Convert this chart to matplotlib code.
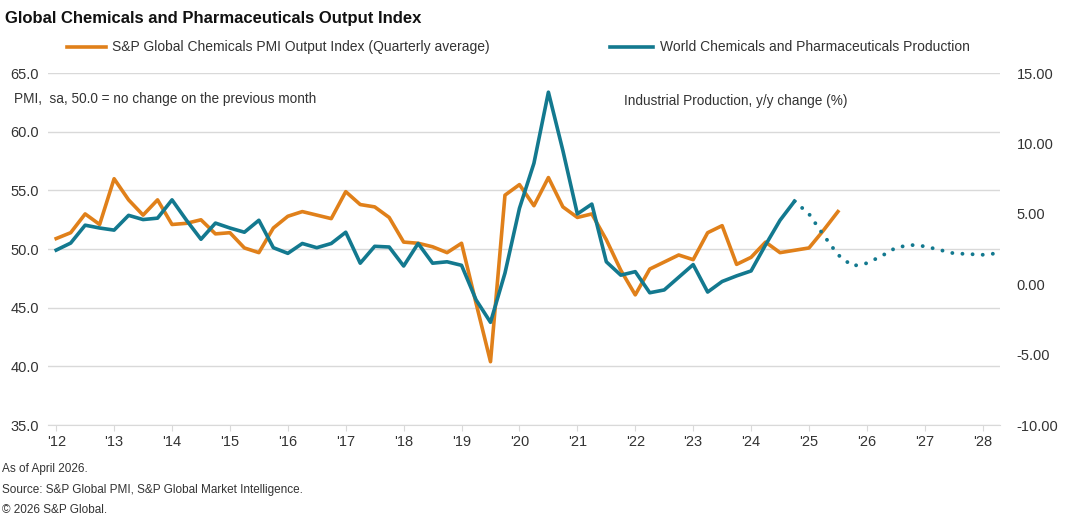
import matplotlib
matplotlib.use("Agg")
import matplotlib.pyplot as plt
import numpy as np

plt.rcParams['font.family'] = ['Liberation Sans', 'DejaVu Sans']

pmi = [50.9,51.4,53.0,52.1,56.0,54.2,52.9,54.2,52.1,52.2,52.5,51.3,51.4,50.1,49.7,51.8,
       52.8,53.2,52.9,52.6,54.9,53.8,53.6,52.7,50.6,50.5,50.2,49.7,50.5,45.4,40.4,54.6,
       55.5,53.7,56.1,53.6,52.7,53.0,50.8,48.2,46.1,48.3,48.9,49.5,49.1,51.4,52.0,48.7,
       49.3,50.6,49.7,49.9,50.1,51.6,53.2]
prod = [2.43,2.93,4.2,4.0,3.85,4.9,4.6,4.7,6.0,4.55,3.2,4.35,4.0,3.7,4.55,2.6,
        2.2,2.9,2.6,2.9,3.7,1.5,2.7,2.65,1.3,2.9,1.5,1.6,1.35,-1.1,-2.7,0.8,
        5.4,8.6,13.65,9.5,5.0,5.7,1.6,0.65,0.9,-0.6,-0.4,0.5,1.4,-0.55,0.2,0.6,
        0.95,2.8,4.55,5.9]
forecast = [5.9,5.0,3.5,2.1,1.3,1.5,2.0,2.6,2.8,2.7,2.45,2.2,2.15,2.1,2.2]
year_labels = ["'12","'13","'14","'15","'16","'17","'18","'19","'20","'21","'22","'23","'24","'25","'26","'27","'28"]

orange = '#E0801A'
teal = '#13798F'
grey = '#333333'

fig = plt.figure(figsize=(10.8, 5.19), dpi=100)
ax = fig.add_axes([0.044, 0.181, 0.882, 0.678])
ax2 = ax.twinx()

x_pmi = np.arange(len(pmi))
x_prod = np.arange(len(prod))
x_fc = np.arange(len(prod) - 1, len(prod) - 1 + len(forecast))

ax.plot(x_pmi, pmi, color=orange, lw=2.6, zorder=3)
ax2.plot(x_prod, prod, color=teal, lw=2.6, zorder=3)
ax2.plot(x_fc, forecast, color=teal, lw=2.8, ls=(0, (0.01, 2.6)), dash_capstyle='round', zorder=3)

ax.set_ylim(35, 65)
ax2.set_ylim(-10, 15)
ax.set_xlim(-0.6, 65.2)
ax.set_yticks(np.arange(35, 66, 5))
ax.set_yticklabels([f"{v:.1f}" for v in np.arange(35, 66, 5)])
ax2.set_yticks(np.arange(-10, 16, 5))
ax2.set_yticklabels([f"{v:.2f}" for v in np.arange(-10, 16, 5)])
ax.set_xticks(np.arange(0, 65, 4))
ax.set_xticklabels(year_labels)
ax.grid(axis='y', color='#d9d9d9', lw=1)
ax.set_axisbelow(True)
for a in (ax, ax2):
    for s in a.spines.values():
        s.set_visible(False)
    a.tick_params(length=0, labelsize=10.5, colors=grey)
ax.spines['bottom'].set_visible(True)
ax.spines['bottom'].set_color('#d9d9d9')
ax.tick_params(axis='x', length=4, color='#d9d9d9', direction='out', pad=3)
ax.tick_params(axis='y', pad=6)
ax2.tick_params(axis='y', pad=12)

fig.text(0.005, 0.965, "Global Chemicals and Pharmaceuticals Output Index", fontsize=12,
         fontweight='bold', color='#111111', va='center')
fig.lines.append(plt.Line2D([0.062, 0.098], [0.909, 0.909], color=orange, lw=2.6, transform=fig.transFigure))
fig.text(0.104, 0.909, "S&P Global Chemicals PMI Output Index (Quarterly average)", fontsize=10, color=grey, va='center')
fig.lines.append(plt.Line2D([0.565, 0.605], [0.909, 0.909], color=teal, lw=2.6, transform=fig.transFigure))
fig.text(0.611, 0.909, "World Chemicals and Pharmaceuticals Production", fontsize=10, color=grey, va='center')

fig.text(0.013, 0.81, "PMI,  sa, 50.0 = no change on the previous month", fontsize=9.8, color=grey, va='center')
fig.text(0.578, 0.805, "Industrial Production, y/y change (%)", fontsize=9.8, color=grey, va='center')

fig.text(0.002, 0.097, "As of April 2026.", fontsize=8.5, color=grey, va='center')
fig.text(0.002, 0.055, "Source: S&P Global PMI, S&P Global Market Intelligence.", fontsize=8.5, color=grey, va='center')
fig.text(0.002, 0.018, "\u00a9 2026 S&P Global.", fontsize=8.5, color=grey, va='center')

fig.savefig("out.png", dpi=100)
